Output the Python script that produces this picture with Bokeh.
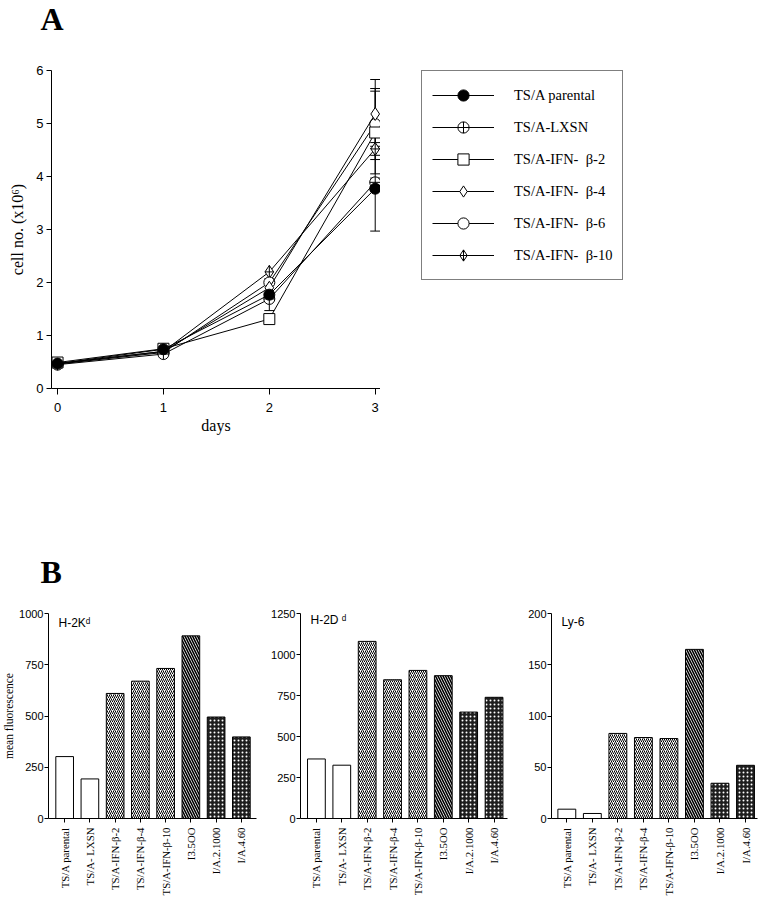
import math
from bokeh.plotting import figure
from bokeh.models import (ColumnDataSource, Range1d, FixedTicker, Legend, LegendItem,
                          Label, Whisker, TeeHead)
from bokeh.layouts import column, row
from bokeh.embed import file_html
from bokeh.resources import INLINE

# ---------------- Panel A data ----------------
days = [0, 1, 2, 3]
series_labels = ["TS/A parental", "TS/A-LXSN",
                 "TS/A-IFN-\u00a0\u00a0\u03b2-2", "TS/A-IFN-\u00a0\u00a0\u03b2-4",
                 "TS/A-IFN-\u00a0\u00a0\u03b2-6", "TS/A-IFN-\u00a0\u00a0\u03b2-10"]
parental = [0.47, 0.74, 1.77, 3.77]
lxsn = [0.45, 0.65, 1.69, 3.89]
ifn_b2 = [0.49, 0.75, 1.31, 4.83]
ifn_b4 = [0.47, 0.70, 1.90, 5.18]
ifn_b6 = [0.46, 0.68, 2.00, 4.99]
ifn_b10 = [0.47, 0.70, 2.20, 4.52]
sd_parental = [0.0, 0.0, 0.30, 0.80]
sd_lxsn = [0.0, 0.0, 0.0, 0.08]
sd_b2 = [0.0, 0.0, 0.0, 0.78]
sd_b4 = [0.0, 0.0, 0.0, 0.65]
sd_b6 = [0.0, 0.0, 0.0, 0.67]
sd_b10 = [0.0, 0.0, 0.0, 0.12]
x_ticks_a = [0, 1, 2, 3]
y_ticks_a = [0, 1, 2, 3, 4, 5, 6]

# ---------------- Panel B data ----------------
cats = ["TS/A parental", "TS/A- LXSN", "TS/A-IFN-\u03b2-2", "TS/A-IFN-\u03b2-4",
        "TS/A-IFN-\u03b2-10", "I3.5OO", "I/A.2.1000", "I/A.4.60"]
h2kd = [302, 193, 610, 670, 732, 891, 495, 398]
h2dd = [363, 325, 1080, 846, 903, 871, 649, 739]
ly6 = [9.1, 4.9, 83, 79, 78, 165, 34.4, 51.9]
ticks_h2kd = [0, 250, 500, 750, 1000]
ticks_h2dd = [0, 250, 500, 750, 1000, 1250]
ticks_ly6 = [0, 50, 100, 150, 200]

# ---------------- styles ----------------
SERIF = "Liberation Serif"
SANS = "Liberation Sans"
marker_types = ["circle", "circle_cross", "square", "diamond", "circle", "diamond_cross"]
marker_fills = ["black", "white", "white", "white", "white", "white"]
marker_sizes = [11, 11, 11, 13, 11, 13]

bar_fill = ["white", "white", "white", "white", "white", "white", "#1e1e1e", "#1e1e1e"]
bar_hatch = [" ", " ", "/", "/", "/", "\\", ".", "."]
bar_hatch_color = ["black", "black", "black", "black", "black", "black", "white", "white"]
bar_hatch_weight = [1, 1, 1, 1, 1, 1.6, 1, 1]
bar_hatch_scale = [4, 4, 4, 4, 4, 5, 4, 4]


def blank_figure(width, height):
    f = figure(width=width, height=height, x_range=Range1d(0, 1), y_range=Range1d(0, 1),
               output_backend="svg", toolbar_location=None, frame_align=False,
               x_axis_location=None, y_axis_location=None,
               min_border_left=0, min_border_right=0, min_border_top=0, min_border_bottom=0)
    f.grid.visible = False
    f.outline_line_color = None
    return f


def style_axes(p):
    for ax in (p.xaxis[0], p.yaxis[0]):
        ax.axis_line_color = "black"
        ax.axis_line_width = 1
        ax.major_tick_line_color = "black"
        ax.major_tick_in = 0
        ax.minor_tick_line_color = None
        ax.axis_label_text_font_style = "normal"


# ---------------- header "A" ----------------
headA = blank_figure(761, 40)
headA.add_layout(Label(x=40, y=22, x_units="screen", y_units="screen", text="A",
                       text_font=SERIF, text_font_size="32px", text_font_style="bold",
                       text_baseline="alphabetic", text_color="black"))

# ---------------- Panel A figure ----------------
pA = figure(width=380, height=500, x_range=Range1d(-0.057, 3.05), y_range=Range1d(0, 6),
            output_backend="svg", toolbar_location=None, frame_align=False,
            min_border_left=51, min_border_right=0, min_border_top=30, min_border_bottom=152)
pA.grid.visible = False
pA.outline_line_color = None
style_axes(pA)
pA.xaxis.ticker = FixedTicker(ticks=x_ticks_a)
pA.yaxis.ticker = FixedTicker(ticks=y_ticks_a)
pA.xaxis.major_tick_out = 6
pA.yaxis.major_tick_out = 5
pA.xaxis.major_label_standoff = 8
pA.yaxis.major_label_standoff = 3
for ax in (pA.xaxis[0], pA.yaxis[0]):
    ax.major_label_text_font = SANS
    ax.major_label_text_font_size = "13px"
    ax.major_label_text_color = "black"
    ax.axis_label_text_font = SERIF
    ax.axis_label_text_font_size = "16px"
    ax.axis_label_text_color = "black"
pA.xaxis.axis_label = "days"
pA.xaxis.axis_label_standoff = 2
pA.yaxis.axis_label = "cell no. (x10\u2076)"
pA.yaxis.axis_label_standoff = 7

series = [parental, lxsn, ifn_b2, ifn_b4, ifn_b6, ifn_b10]
sds = [sd_parental, sd_lxsn, sd_b2, sd_b4, sd_b6, sd_b10]

# error bars (under the markers)
wb, wu, wl = [], [], []
for vals, sd in zip(series, sds):
    for d, v, s in zip(days, vals, sd):
        if s > 0:
            wb.append(d)
            wu.append(v + s)
            wl.append(v - s)
wsrc = ColumnDataSource(dict(base=wb, upper=wu, lower=wl))
wh = Whisker(base="base", upper="upper", lower="lower", source=wsrc,
             line_color="black", line_width=1,
             upper_head=TeeHead(size=10, line_color="black", line_width=1),
             lower_head=TeeHead(size=10, line_color="black", line_width=1))
wh.level = "underlay"
pA.add_layout(wh)

for i in reversed(range(len(series))):
    src = ColumnDataSource(dict(x=days, y=series[i]))
    pA.line("x", "y", source=src, line_color="black", line_width=1)
    pA.scatter("x", "y", source=src, marker=marker_types[i], size=marker_sizes[i],
               fill_color=marker_fills[i], line_color="black", line_width=1)

# ---------------- legend (own blank figure to the right of panel A) ----------------
pLeg = blank_figure(381, 500)
items = []
for i in range(len(series)):
    # legend-only renderers: a single NaN point, so nothing is drawn in the (empty) frame
    proxy = ColumnDataSource(dict(x=[float("nan")], y=[float("nan")]))
    lr = pLeg.line("x", "y", source=proxy, line_color="black", line_width=1)
    sr = pLeg.scatter("x", "y", source=proxy, marker=marker_types[i], size=marker_sizes[i],
                      fill_color=marker_fills[i], line_color="black", line_width=1)
    items.append(LegendItem(label=series_labels[i], renderers=[lr, sr]))
legend = Legend(items=items, location=(41, 260), margin=0, padding=10, spacing=4,
                glyph_width=62, glyph_height=28, label_standoff=20,
                label_text_font=SERIF, label_text_font_size="14.5px", label_text_color="black",
                border_line_color="black", border_line_width=1,
                background_fill_color="white", background_fill_alpha=1.0)
pLeg.add_layout(legend)

# ---------------- header "B" ----------------
headB = blank_figure(761, 50)
headB.add_layout(Label(x=40, y=19, x_units="screen", y_units="screen", text="B",
                       text_font=SERIF, text_font_size="32px", text_font_style="bold",
                       text_baseline="alphabetic", text_color="black"))


# ---------------- Panel B figures ----------------
def bar_panel(vals, ymax, yticks, xr, width, left, right, title, title_y, ylabel=None):
    p = figure(width=width, height=308, x_range=Range1d(*xr), y_range=Range1d(0, ymax),
               output_backend="svg", toolbar_location=None, frame_align=False,
               min_border_left=left, min_border_right=right, min_border_top=23, min_border_bottom=79)
    p.grid.visible = False
    p.outline_line_color = None
    style_axes(p)
    xs = list(range(len(cats)))
    src = ColumnDataSource(dict(x=xs, top=vals, fill=bar_fill, hatch=bar_hatch,
                                hcol=bar_hatch_color, hw=bar_hatch_weight, hs=bar_hatch_scale))
    p.vbar(x="x", top="top", bottom=0, width=0.7, source=src,
           fill_color="fill", line_color="black", line_width=1,
           hatch_pattern="hatch", hatch_color="hcol", hatch_weight="hw", hatch_scale="hs")
    p.xaxis.ticker = FixedTicker(ticks=xs)
    p.xaxis.major_label_overrides = {i: c for i, c in enumerate(cats)}
    p.xaxis.major_label_orientation = math.pi / 2
    p.xaxis.major_label_text_font = SERIF
    p.xaxis.major_label_text_font_size = "10.8px"
    p.xaxis.major_label_text_color = "black"
    p.xaxis.major_tick_out = 4
    p.xaxis.major_label_standoff = 5
    p.yaxis.ticker = FixedTicker(ticks=yticks)
    p.yaxis.major_label_text_font = SANS
    p.yaxis.major_label_text_font_size = "11px"
    p.yaxis.major_label_text_color = "black"
    p.yaxis.major_tick_out = 4
    p.yaxis.major_label_standoff = 1
    if ylabel:
        p.yaxis.axis_label = ylabel
        p.yaxis.axis_label_text_font = SERIF
        p.yaxis.axis_label_text_font_size = "11.5px"
        p.yaxis.axis_label_text_color = "black"
        p.yaxis.axis_label_standoff = 1
    p.add_layout(Label(x=10, y=title_y, x_units="screen", y_units="screen", text=title,
                       text_font=SANS, text_font_size="12px", text_baseline="alphabetic",
                       text_color="black"))
    return p


p1 = bar_panel(h2kd, 1000, ticks_h2kd, (-0.64, 7.6), 268, 45, 12, "H-2K\u1d48", 196,
               ylabel="mean fluorescence")
p2 = bar_panel(h2dd, 1250, ticks_h2dd, (-0.627, 7.53), 257, 31, 18, "H-2D \u1d48", 199)
p3 = bar_panel(ly6, 200, ticks_ly6, (-0.6, 7.47), 235, 26, 3, "Ly-6", 197)

layout = column(headA, row(pA, pLeg), headB, row(p1, p2, p3))
open("out.html", "w").write(file_html(layout, INLINE))
